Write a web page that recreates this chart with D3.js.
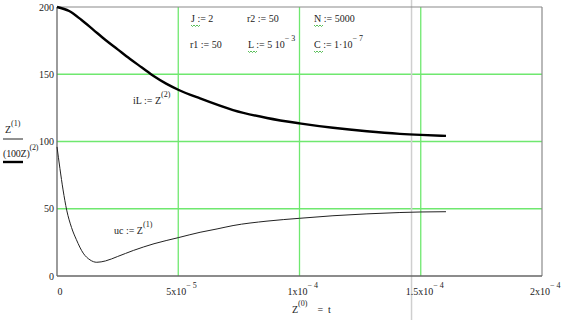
<!DOCTYPE html>
<html>
<head>
<meta charset="utf-8">
<script src="https://cdn.jsdelivr.net/npm/d3@7"></script>
<style>
  body { margin: 0; background: #fff; }
  svg text { font-family: "Liberation Serif", "DejaVu Serif", serif; font-size: 10px; fill: #222; }
</style>
</head>
<body>
<svg id="chart" width="562" height="320"></svg>
<script>
// time in microseconds
const iLTime = [0, 5, 10, 15, 20, 25, 30, 35, 40, 45, 50, 59, 72.6, 86.6, 100, 113.8, 127.8, 141.4, 150, 160.4];
const iLValues = [200, 197, 190.5, 183, 175.5, 168.5, 161.5, 155, 148.5, 143, 138.5, 132, 123.4, 117.5, 113.5, 110.2, 107.6, 105.7, 104.9, 104.2];

const ucTime = [0, 1.2, 2.5, 4, 6, 8, 10.8, 13.6, 16.4, 20, 25, 31.5, 40, 50, 59, 66, 72.6, 86.6, 100, 113.8, 127.8, 141.4, 150, 160.4];
const ucValues = [96, 80, 64, 49, 36, 27, 17, 12, 10.2, 11.2, 14.5, 19, 24, 28.5, 32.5, 35, 37.5, 40.8, 42.9, 44.8, 46.2, 47.2, 47.6, 47.8];

const yTicks = [0, 50, 100, 150, 200];
const xTicks = [
  { v: 0, m: '0', e: '' },
  { v: 5e-5, m: '5x10', e: '\u2212 5' },
  { v: 1e-4, m: '1x10', e: '\u2212 4' },
  { v: 1.5e-4, m: '1.5x10', e: '\u2212 4' },
  { v: 2e-4, m: '2x10', e: '\u2212 4' }
];
const xGrid = [5e-5, 1e-4, 1.5e-4];
const yGrid = [50, 100, 150];
const cursorT = 1.462e-4;

const svg = d3.select('#chart');

const x = d3.scaleLinear().domain([0, 2e-4]).range([57, 542]);
const y = d3.scaleLinear().domain([0, 200]).range([276, 7]);

// grid
svg.append('g').selectAll('line').data(xGrid).enter().append('line')
  .attr('x1', d => x(d)).attr('x2', d => x(d))
  .attr('y1', y(0)).attr('y2', y(200))
  .attr('stroke', '#6fe86f').attr('stroke-width', 1.3);
svg.append('g').selectAll('line').data(yGrid).enter().append('line')
  .attr('x1', x(0)).attr('x2', x(2e-4))
  .attr('y1', d => y(d)).attr('y2', d => y(d))
  .attr('stroke', '#6fe86f').attr('stroke-width', 1.3);

// light grey cursor line
svg.append('line')
  .attr('x1', x(cursorT)).attr('x2', x(cursorT))
  .attr('y1', 0).attr('y2', 320)
  .attr('stroke', '#cfcfcf').attr('stroke-width', 1.5);

// frame
svg.append('line').attr('x1', x(0)).attr('x2', x(2e-4)).attr('y1', y(200)).attr('y2', y(200))
  .attr('stroke', '#8a8a8a').attr('stroke-width', 1.2);
svg.append('line').attr('x1', x(2e-4)).attr('x2', x(2e-4)).attr('y1', y(200)).attr('y2', y(0))
  .attr('stroke', '#8a8a8a').attr('stroke-width', 1.2);
svg.append('line').attr('x1', x(0)).attr('x2', x(0)).attr('y1', y(200)).attr('y2', y(0))
  .attr('stroke', '#666').attr('stroke-width', 1.3);
svg.append('line').attr('x1', x(0)).attr('x2', x(2e-4)).attr('y1', y(0)).attr('y2', y(0))
  .attr('stroke', '#666').attr('stroke-width', 1.3);

// curves
const line = d3.line().curve(d3.curveMonotoneX)
  .x(d => x(d[0] * 1e-6)).y(d => y(d[1]));

svg.append('path')
  .datum(iLTime.map((t, i) => [t, iLValues[i]]))
  .attr('d', line).attr('fill', 'none')
  .attr('stroke', '#000').attr('stroke-width', 2.4);

svg.append('path')
  .datum(ucTime.map((t, i) => [t, ucValues[i]]))
  .attr('d', line).attr('fill', 'none')
  .attr('stroke', '#222').attr('stroke-width', 1);

// y tick labels
svg.append('g').selectAll('text').data(yTicks).enter().append('text')
  .attr('x', x(0) - 3).attr('y', d => y(d) + 3.5)
  .attr('text-anchor', 'end')
  .text(d => d);

// x tick labels
const xl = svg.append('g').selectAll('text').data(xTicks).enter().append('text')
  .attr('y', 295);
xl.append('tspan').text(d => d.m)
  .attr('x', d => d.e ? x(d.v) - (d.m.length > 4 ? 15 : 12) : x(d.v) + 0.5);
xl.append('tspan').attr('dy', -7).attr('font-size', '8px').text(d => d.e);

// text with a raised part
function label(px, py, main, sup, after) {
  const t = svg.append('text').attr('x', px).attr('y', py);
  t.append('tspan').text(main);
  t.append('tspan').attr('dy', -7).attr('font-size', '8px').text(sup);
  if (after) t.append('tspan').attr('dy', 7).text(after);
  return t;
}

// x axis title
label(292, 313, 'Z', '(0)', '\u00a0\u00a0\u00a0\u00a0=\u00a0\u00a0t');

// y axis legend
label(5, 133, 'Z', '(1)');
svg.append('line').attr('x1', 3).attr('x2', 23).attr('y1', 139).attr('y2', 139)
  .attr('stroke', '#222').attr('stroke-width', 1);
label(3, 157, '(100Z)', '(2)').attr('font-size', '9px').attr('letter-spacing', '-0.2');
svg.append('line').attr('x1', 3).attr('x2', 23).attr('y1', 162).attr('y2', 162)
  .attr('stroke', '#000').attr('stroke-width', 2.4);

// annotations
label(133, 104, 'iL := Z', '(2)');
label(114, 234, 'uc := Z', '(1)');

// parameters
label(191, 22, 'J := 2', '');
label(247, 22, 'r2 := 50', '');
label(314, 22, 'N := 5000', '');
label(190, 48, 'r1 := 50', '');
label(248, 48, 'L := 5 10', '\u2212 3');
label(314, 48, 'C := 1\u00b710', '\u2212 7');

// green squiggles under the flagged names
const squiggles = [[191, 25], [314, 25], [248, 51], [314, 51]];
svg.append('g').selectAll('path').data(squiggles).enter().append('path')
  .attr('d', d => {
    let p = 'M' + d[0] + ',' + d[1];
    for (let i = 1; i <= 6; i++) p += 'L' + (d[0] + i * 1.5) + ',' + (d[1] + (i % 2 ? 1.5 : 0));
    return p;
  })
  .attr('fill', 'none').attr('stroke', '#2fae2f').attr('stroke-width', 0.8);
</script>
</body>
</html>
